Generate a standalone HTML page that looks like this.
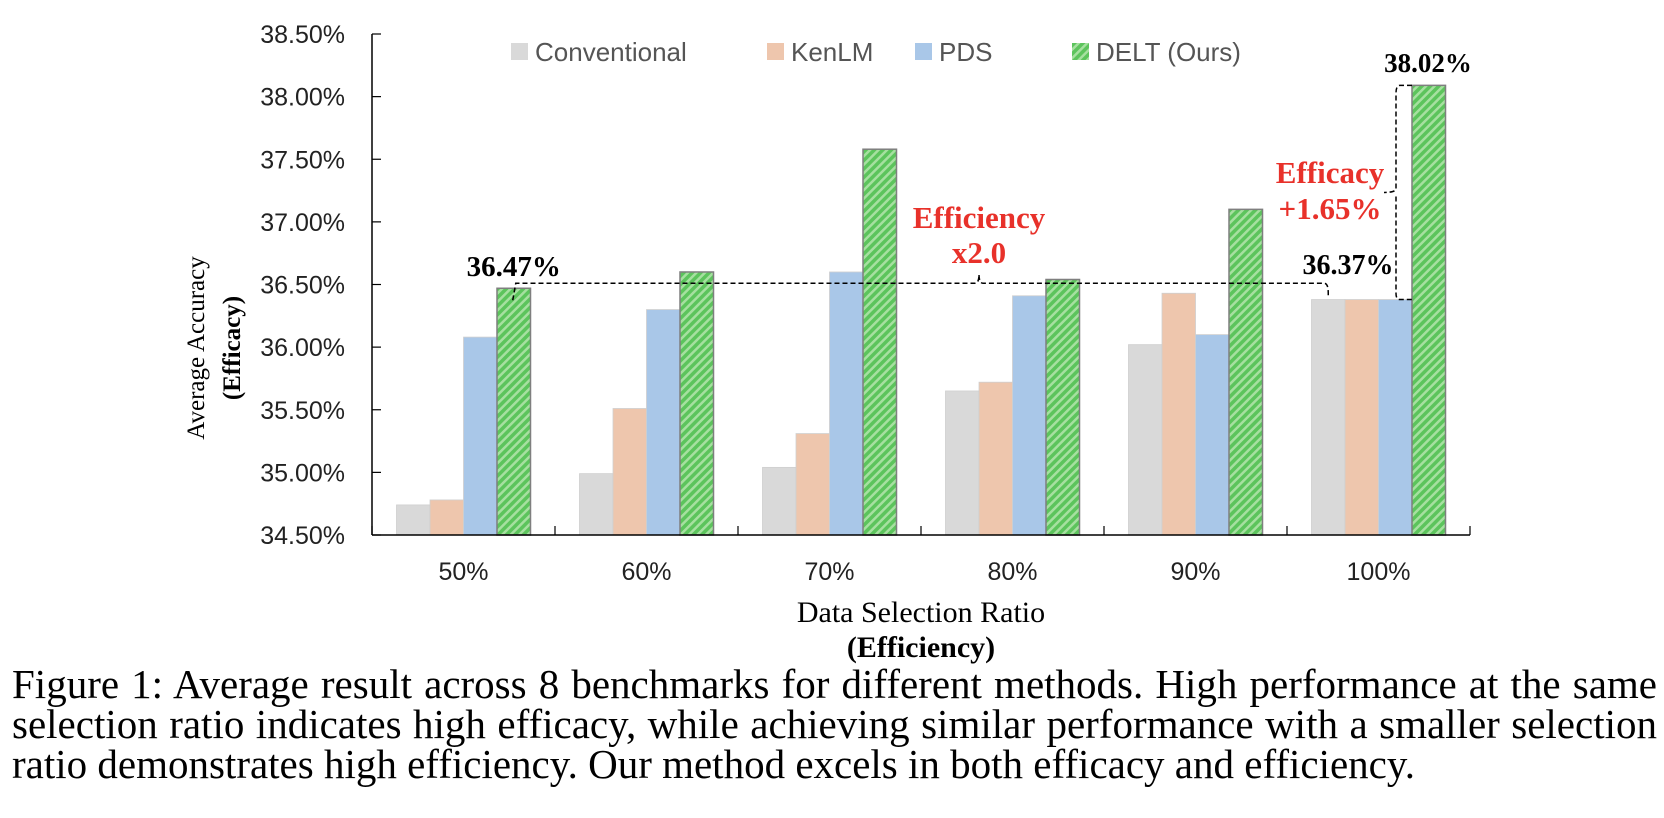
<!DOCTYPE html>
<html><head><meta charset="utf-8"><style>
html,body{margin:0;padding:0;background:#fff;width:1664px;height:818px;overflow:hidden}
svg{display:block}
.cap{position:absolute;left:12px;top:664px;width:1645px;font-family:"Liberation Serif",serif;font-size:41px;line-height:40px;color:#000;text-align:justify;text-align-last:left}
</style></head><body>
<svg id="chart" width="1664" height="818" xmlns="http://www.w3.org/2000/svg" style="position:absolute;left:0;top:0">
<defs>
<pattern id="hatch" patternUnits="userSpaceOnUse" width="6" height="6" patternTransform="rotate(45)">
<rect width="6" height="6" fill="#5cc45c"/><rect width="2.5" height="6" fill="#a6e0a0"/>
</pattern>
</defs>
<g id="plot"></g>
</svg>
<div class="cap">Figure 1: Average result across 8 benchmarks for different methods. High performance at the same selection ratio indicates high efficacy, while achieving similar performance with a smaller selection ratio demonstrates high efficiency. Our method excels in both efficacy and efficiency.</div>
<script>
const categories = ["50%","60%","70%","80%","90%","100%"];
const seriesNames = ["Conventional","KenLM","PDS","DELT (Ours)"];
const conventional = [34.74,34.99,35.04,35.65,36.02,36.38];
const kenlm = [34.78,35.51,35.31,35.72,36.43,36.38];
const pds = [36.08,36.30,36.60,36.41,36.10,36.38];
const delt = [36.47,36.60,37.58,36.54,37.10,38.09];
const yTicks = [34.5,35.0,35.5,36.0,36.5,37.0,37.5,38.0,38.5];

const NS="http://www.w3.org/2000/svg";
const g=document.getElementById('plot');
const X0=372,X1=1470,Y0=535,YMIN=34.5,YMAX=38.5,YTOP=34;
const y=v=>Y0-(v-YMIN)/(YMAX-YMIN)*(Y0-YTOP);
const gw=(X1-X0)/categories.length;
const bw=33.5;
const xBar=(ci,si)=>X0+ci*gw+gw/2-2*bw+si*bw;
function el(t,a,txt){const e=document.createElementNS(NS,t);for(const k in a)e.setAttribute(k,a[k]);if(txt!==undefined)e.textContent=txt;g.appendChild(e);return e;}
const fills=["#d9d9d9","#eec6ad","#a9c7e8","url(#hatch)"];
const series=[conventional,kenlm,pds,delt];
const keys=["conventional","kenlm","pds","delt"];
series.forEach((arr,si)=>{arr.forEach((v,ci)=>{
  const r=el('rect',{x:xBar(ci,si),y:y(v),width:bw,height:Y0-y(v),fill:fills[si],stroke:si==3?'#7f7f7f':'#cfcfcf','stroke-width':si==3?1.5:0.8});
  
  
});});
let a=el('line',{x1:X0,y1:YTOP,x2:X0,y2:Y0,stroke:'#000','stroke-width':1.5});

a=el('line',{x1:X0,y1:Y0,x2:X1,y2:Y0,stroke:'#000','stroke-width':1.5});

yTicks.forEach(t=>{
  el('line',{x1:X0,y1:y(t),x2:X0+9,y2:y(t),stroke:'#000','stroke-width':1.2});
  const tx=el('text',{x:345,y:y(t)+9,'text-anchor':'end','font-family':'Liberation Sans, sans-serif','font-size':25,fill:'#222'},t.toFixed(2)+'%');
  
});
for(let i=0;i<=categories.length;i++){el('line',{x1:X0+i*gw,y1:Y0,x2:X0+i*gw,y2:Y0-9,stroke:'#000','stroke-width':1.2});}
categories.forEach((c,i)=>{
  const t=el('text',{x:X0+i*gw+gw/2,y:580,'text-anchor':'middle','font-family':'Liberation Sans, sans-serif','font-size':25,fill:'#222'},c);
  
});
let t=el('text',{x:921,y:622,'text-anchor':'middle','font-family':'Liberation Serif, serif','font-size':30},'Data Selection Ratio');

t=el('text',{x:921,y:657,'text-anchor':'middle','font-family':'Liberation Serif, serif','font-size':30,'font-weight':'bold'},'(Efficiency)');

t=el('text',{x:0,y:0,transform:'translate(204,348) rotate(-90)','text-anchor':'middle','font-family':'Liberation Serif, serif','font-size':25},'Average Accuracy');

t=el('text',{x:0,y:0,transform:'translate(240,348) rotate(-90)','text-anchor':'middle','font-family':'Liberation Serif, serif','font-size':25,'font-weight':'bold'},'(Efficacy)');

const lx=[511,767,915,1072];
seriesNames.forEach((n,i)=>{
  const r=el('rect',{x:lx[i],y:43,width:17,height:17,fill:fills[i]});
  
  const tt=el('text',{x:lx[i]+24,y:61,'font-family':'Liberation Sans, sans-serif','font-size':26,fill:'#555'},n);
  
});
const dash={stroke:'#000','stroke-width':1.5,'stroke-dasharray':'5,3',fill:'none'};
const gx=xBar(0,3)+bw/2, lvl=y(delt[0])-5, rx=xBar(5,0)+bw/2, mx=979;
let p=el('path',Object.assign({d:`M${gx-1},${y(delt[0])+12} L${gx+2},${lvl} L${mx-4},${lvl} Q${mx},${lvl} ${mx},${lvl-9} Q${mx},${lvl} ${mx+4},${lvl} L${rx-4},${lvl} Q${rx},${lvl} ${rx},${lvl+10} L${rx},${lvl+15}`},dash));

const bx=1396, topY=y(delt[5]), botY=y(pds[5]), midY=(topY+botY)/2;
p=el('path',Object.assign({d:`M${xBar(5,3)},${topY} L${bx+4},${topY} Q${bx},${topY} ${bx},${topY+8} L${bx},${midY-4} Q${bx},${midY} ${bx-12},${midY} M${bx},${midY+4} L${bx},${botY-6} Q${bx},${botY} ${bx+4},${botY} L${xBar(5,3)},${botY}`},dash));

const ann=[["36.47%",gx,276,'#000','label-36-47',29],["36.37%",1348,274,'#000','label-36-37',28],["38.02%",1428,72,'#000','label-38-02',27],
["Efficiency",mx,228,'#e8312a','efficiency-label',31],["x2.0",mx,263,'#e8312a','efficiency-factor',31],
["Efficacy",1330,183,'#e8312a','efficacy-label',31],["+1.65%",1330,219,'#e8312a','efficacy-gain',31]];
ann.forEach(a=>{const e=el('text',{x:a[1],y:a[2],'text-anchor':'middle','font-family':'Liberation Serif, serif','font-size':a[5],'font-weight':'bold',fill:a[3]},a[0]);
});
</script>
</body></html>
